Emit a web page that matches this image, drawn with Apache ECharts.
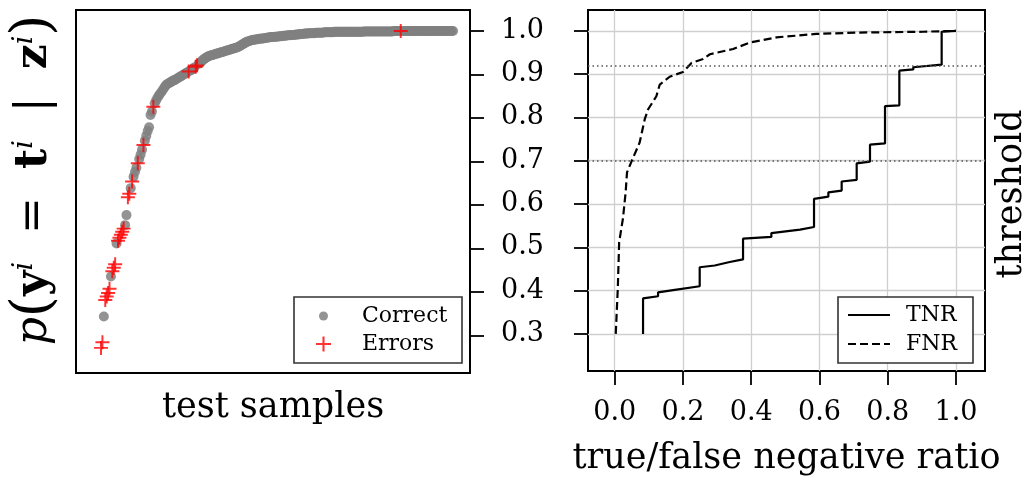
<!DOCTYPE html>
<html><head><meta charset="utf-8">
<script src="https://cdn.jsdelivr.net/npm/echarts@6/dist/echarts.min.js"></script>
<style>html,body{margin:0;padding:0;background:#fff}#c{width:1030px;height:481px}</style>
</head><body><div id="c"></div>
<script>
// Sorted confidence p(y^i = t^i | z^i) of the test samples (index = sample rank)
const confidence = [
0.272,0.285,0.344,0.382,0.390,0.398,0.408,0.436,0.448,0.456,
0.464,0.512,0.518,0.525,0.532,0.539,0.546,0.554,0.577,0.618,
0.626,0.639,0.654,0.665,0.676,0.686,0.696,0.706,0.716,0.727,
0.738,0.748,0.759,0.770,0.779,0.807,0.815,0.826,0.834,0.841,
0.847,0.852,0.857,0.861,0.866,0.871,0.876,0.878,0.880,0.882,
0.884,0.886,0.887,0.889,0.891,0.893,0.895,0.897,0.899,0.901,
0.903,0.905,0.907,0.909,0.911,0.913,0.916,0.918,0.921,0.924,
0.927,0.930,0.933,0.936,0.938,0.940,0.942,0.943,0.944,0.945,
0.946,0.947,0.948,0.949,0.950,0.951,0.952,0.953,0.954,0.955,
0.956,0.957,0.958,0.959,0.960,0.961,0.962,0.963,0.965,0.967,
0.969,0.971,0.973,0.975,0.976,0.977,0.978,0.979,0.980,0.980,
0.981,0.981,0.982,0.982,0.983,0.983,0.984,0.984,0.985,0.985,
0.986,0.986,0.986,0.987,0.987,0.987,0.988,0.988,0.988,0.989,
0.989,0.989,0.990,0.990,0.990,0.991,0.991,0.991,0.992,0.992,
0.992,0.993,0.993,0.993,0.994,0.994,0.994,0.995,0.995,0.995,
0.995,0.995,0.996,0.996,0.996,0.996,0.996,0.996,0.997,0.997,
0.997,0.997,0.997,0.997,0.997,0.998,0.998,0.998,0.998,0.998,
0.998,0.998,0.998,0.998,0.998,0.998,0.998,0.998,0.998,0.998,
0.998,0.998,0.998,0.998,0.998,0.998,0.999,0.999,0.999,0.999,
0.999,0.999,0.999,0.999,0.999,0.999,0.999,0.999,0.999,0.999,
0.999,0.999,0.999,0.999,0.999,0.999,0.999,1.000,1.000,1.000,
1.000,1.000,1.000,1.000,1.000,1.000,1.000,1.000,1.000,1.000,
1.000,1.000,1.000,1.000,1.000,1.000,1.000,1.000,1.000,1.000,
1.000,1.000,1.000,1.000,1.000,1.000,1.000,1.000,1.000,1.000,
1.000,1.000,1.000,1.000,1.000,1.000,1.000,1.000,1.000,1.000
];
// ranks of the misclassified samples
const errorIndices = [0,1,3,4,5,6,8,9,10,12,13,14,15,16,19,20,22,26,30,37,62,67,68,212];

const thresholdTicks = [0.3,0.4,0.5,0.6,0.7,0.8,0.9,1.0];
const ratioTicks = [0.0,0.2,0.4,0.6,0.8,1.0];

const tnrRatio = [0.083,0.083,0.127,0.127,0.171,0.249,0.249,0.293,0.293,0.337,0.337,0.376,0.376,0.459,0.459,0.543,0.543,0.584,0.584,0.626,0.626,0.665,0.665,0.709,0.709,0.748,0.748,0.792,0.792,0.834,0.834,0.875,0.875,0.958,0.958,1.000];
const tnrThreshold = [0.300,0.382,0.387,0.396,0.401,0.410,0.454,0.458,0.461,0.466,0.469,0.472,0.520,0.524,0.533,0.541,0.544,0.547,0.612,0.617,0.627,0.631,0.652,0.656,0.694,0.698,0.737,0.740,0.826,0.828,0.908,0.911,0.916,0.922,0.998,1.000];

const fnrRatio = [0.003,0.009,0.013,0.024,0.032,0.036,0.049,0.073,0.088,0.098,0.122,0.132,0.161,0.200,0.225,0.259,0.279,0.347,0.396,0.474,0.591,0.709,0.904,1.000];
const fnrThreshold = [0.300,0.405,0.512,0.566,0.627,0.673,0.698,0.742,0.796,0.819,0.849,0.876,0.894,0.905,0.926,0.935,0.946,0.958,0.973,0.985,0.993,0.996,0.998,1.000];

const markedThresholds = [0.923, 0.696];

const FONT = 'DejaVu Serif';
const errSet = new Set(errorIndices);
const correctData = [], errorData = [];
confidence.forEach((v, i) => { (errSet.has(i) ? errorData : correctData).push([i, v]); });
const tnrData = tnrRatio.map((x, k) => [x, tnrThreshold[k]]);
const fnrData = fnrRatio.map((x, k) => [x, fnrThreshold[k]]);
const plusPath = 'path://M0,43H100V57H0Z M43,0H57V100H43Z';

const yMin = 0.2143, yMax = 1.0482;
const tickStyle = {color:'#000', width:1.8};
const noLine = {show:false, onZero:false};
const clearSymbol = {color:'rgba(0,0,0,0)', borderColor:'rgba(0,0,0,0)', borderWidth:0};

const chart = echarts.init(document.getElementById('c'), null, {renderer:'canvas'});
chart.setOption({
  animation: false,
  backgroundColor: '#fff',
  grid: [
    {left:76, top:10, width:394, height:363, show:true, borderColor:'#000', borderWidth:2, backgroundColor:'transparent'},
    {left:588, top:10, width:397, height:363, show:true, borderColor:'#000', borderWidth:2, backgroundColor:'transparent'}
  ],
  xAxis: [
    {gridIndex:0, type:'value', min:-17.7, max:261, position:'bottom',
     axisLine:noLine, axisTick:{show:false}, axisLabel:{show:false}, splitLine:{show:false},
     name:'test samples', nameLocation:'middle', nameGap:17,
     nameTextStyle:{fontFamily:FONT, fontSize:35, color:'#000'}},
    {gridIndex:1, type:'value', min:-0.0783, max:1.085, splitNumber:5, position:'bottom',
     axisLine:noLine,
     axisTick:{show:true, inside:false, length:14, lineStyle:tickStyle, customValues:ratioTicks},
     axisLabel:{customValues:ratioTicks, formatter:v=>v.toFixed(1), margin:28, fontFamily:FONT, fontSize:27, color:'#000'},
     splitLine:{show:true, lineStyle:{color:'#cfcfcf', width:1.3}},
     name:'true/false negative ratio', nameLocation:'middle', nameGap:70,
     nameTextStyle:{fontFamily:FONT, fontSize:35, color:'#000'}}
  ],
  yAxis: [
    {gridIndex:0, type:'value', min:yMin, max:yMax, position:'right', splitNumber:8,
     axisLine:noLine,
     axisTick:{show:true, inside:false, length:14, lineStyle:tickStyle, customValues:thresholdTicks},
     axisLabel:{show:false}, splitLine:{show:false}},
    {gridIndex:1, type:'value', min:yMin, max:yMax, position:'left', splitNumber:8,
     axisLine:noLine,
     axisTick:{show:true, inside:false, length:14, lineStyle:tickStyle, customValues:thresholdTicks},
     axisLabel:{customValues:thresholdTicks, formatter:v=>v.toFixed(1), margin:44, fontFamily:FONT, fontSize:27, color:'#000'},
     splitLine:{show:true, lineStyle:{color:'#cfcfcf', width:1.3}}}
  ],
  legend: [
    {data:['Correct'], left:319, top:305, orient:'vertical', padding:0, itemWidth:9, itemHeight:9, selectedMode:false,
     textStyle:{fontFamily:FONT, fontSize:22, color:'#000', padding:[0,0,0,29]}},
    {data:['Errors'], left:316, top:333, orient:'vertical', padding:0, itemWidth:15, itemHeight:15, selectedMode:false,
     textStyle:{fontFamily:FONT, fontSize:22, color:'#000', padding:[0,0,0,26]}},
    {data:['TNR','FNR'], left:847, top:304, orient:'vertical', padding:0, itemWidth:42, itemHeight:14, itemGap:7, selectedMode:false,
     itemStyle:clearSymbol,
     textStyle:{fontFamily:FONT, fontSize:22, color:'#000', padding:[0,0,0,11]}}
  ],
  graphic: [
    {type:'rect', z:3, shape:{x:294, y:297, width:168, height:66}, style:{fill:'#fff', stroke:'#333', lineWidth:1.6}},
    {type:'rect', z:3, shape:{x:838, y:297, width:135, height:66}, style:{fill:'#fff', stroke:'#333', lineWidth:1.6}},
    {type:'text', z:5, x:35, y:180, rotation:Math.PI/2,
     style:{text:'{i|p}{p|(}{b|y}{s|i}{o|  =  }{b|t}{s|i}{o|  |  }{b|z}{s|i}{p|)}', align:'center', verticalAlign:'middle', fill:'#000',
       rich:{
         i:{fontFamily:FONT, fontStyle:'italic', fontSize:44, fill:'#000'},
         p:{fontFamily:FONT, fontSize:54, fill:'#000'},
         b:{fontFamily:FONT, fontWeight:'bold', fontSize:44, fill:'#000'},
         s:{fontFamily:FONT, fontStyle:'italic', fontSize:27, padding:[0,0,20,0], fill:'#000'},
         o:{fontFamily:FONT, fontSize:44, fill:'#000'}
       }}},
    {type:'text', z:5, x:1012, y:194, rotation:Math.PI/2,
     style:{text:'threshold', font:'35px "DejaVu Serif"', align:'center', verticalAlign:'middle', fill:'#000'}}
  ],
  series: [
    {name:'Correct', type:'scatter', xAxisIndex:0, yAxisIndex:0, data:correctData,
     symbol:'circle', symbolSize:10, itemStyle:{color:'#808080', opacity:0.85}, z:2},
    {name:'Errors', type:'scatter', xAxisIndex:0, yAxisIndex:0, data:errorData,
     symbol:plusPath, symbolSize:14, itemStyle:{color:'#ff0000'}, z:3},
    {name:'TNR', type:'line', xAxisIndex:1, yAxisIndex:1, data:tnrData, symbol:'none', showSymbol:false,
     lineStyle:{color:'#000', width:2.2}, itemStyle:{color:'#000'}, z:3,
     markLine:{silent:true, symbol:'none', label:{show:false},
       lineStyle:{color:'#555', width:1.5, type:[1.5,3]},
       data: markedThresholds.map(v => ({yAxis:v}))}},
    {name:'FNR', type:'line', xAxisIndex:1, yAxisIndex:1, data:fnrData, symbol:'none', showSymbol:false,
     lineStyle:{color:'#000', width:2.2, type:[8,4]}, itemStyle:{color:'#000'}, z:3}
  ]
});
</script></body></html>
